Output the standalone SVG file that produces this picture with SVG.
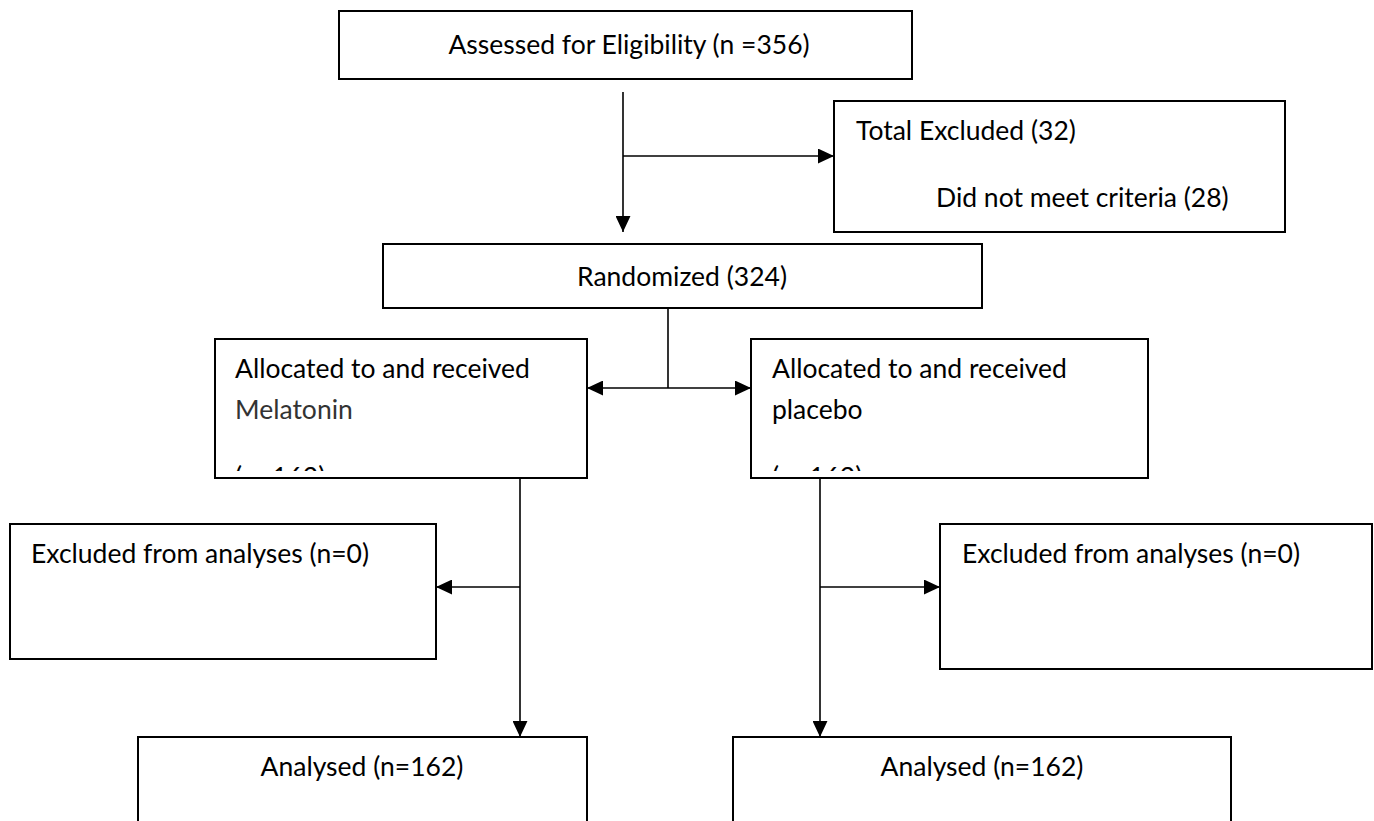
<svg xmlns="http://www.w3.org/2000/svg" width="1374" height="821" viewBox="0 0 1374 821">
<style>
.box{fill:#fff;stroke:#000;stroke-width:2}
.t{font-family:Lato,"Liberation Sans",sans-serif;font-size:26.5px;fill:#000}
.c{text-anchor:middle}
.ln{fill:none;stroke:#000;stroke-width:1.6}
</style>
<defs>
<marker id="ah" markerUnits="userSpaceOnUse" markerWidth="16" markerHeight="15" refX="15" refY="7" orient="auto-start-reverse" viewBox="0 0 15 14">
<path d="M0,0 L15,7 L0,14 z" fill="#000"/>
</marker>
<clipPath id="clipL"><rect x="216" y="340" width="370" height="131"/></clipPath>
<clipPath id="clipR"><rect x="752" y="340" width="395" height="131"/></clipPath>
</defs>
<rect width="1374" height="821" fill="#fff"/>
<g id="assessed">
<rect class="box" x="339" y="11" width="573" height="68"/>
<text class="t c" x="629" y="54">Assessed for Eligibility (n =356)</text>
</g>
<g id="excluded">
<rect class="box" x="834" y="101" width="451" height="131"/>
<text class="t" x="856" y="140">Total Excluded (32)</text>
<text class="t" x="936" y="207">Did not meet criteria (28)</text>
</g>
<g id="randomized">
<rect class="box" x="383" y="244" width="599" height="64"/>
<text class="t c" x="682" y="286">Randomized (324)</text>
</g>
<g id="alloc-melatonin">
<rect class="box" x="215" y="339" width="372" height="139"/>
<text class="t" x="235" y="378">Allocated to and received</text>
<text class="t" x="235" y="419" style="fill:#333">Melatonin</text>
<text class="t" x="235" y="486" clip-path="url(#clipL)">(n=162)</text>
</g>
<g id="alloc-placebo">
<rect class="box" x="751" y="339" width="397" height="139"/>
<text class="t" x="772" y="378">Allocated to and received</text>
<text class="t" x="772" y="419">placebo</text>
<text class="t" x="772" y="486" clip-path="url(#clipR)">(n=162)</text>
</g>
<g id="excl-left">
<rect class="box" x="10" y="524" width="426" height="135"/>
<text class="t" x="31" y="563">Excluded from analyses (n=0)</text>
</g>
<g id="excl-right">
<rect class="box" x="940" y="524" width="432" height="145"/>
<text class="t" x="962" y="563">Excluded from analyses (n=0)</text>
</g>
<g id="analysed-left">
<rect class="box" x="138" y="737" width="449" height="120"/>
<text class="t c" x="362" y="776">Analysed (n=162)</text>
</g>
<g id="analysed-right">
<rect class="box" x="733" y="737" width="498" height="120"/>
<text class="t c" x="982" y="776">Analysed (n=162)</text>
</g>
<g id="connectors">
<path class="ln" d="M623,92 V232" marker-end="url(#ah)"/>
<path class="ln" d="M623,156 H834" marker-end="url(#ah)"/>
<path class="ln" d="M668,307 V388"/>
<path class="ln" d="M587,388 H751" marker-start="url(#ah)" marker-end="url(#ah)"/>
<path class="ln" d="M520,478 V737" marker-end="url(#ah)"/>
<path class="ln" d="M520,587 H436" marker-end="url(#ah)"/>
<path class="ln" d="M820,478 V737" marker-end="url(#ah)"/>
<path class="ln" d="M820,587 H940" marker-end="url(#ah)"/>
</g>
</svg>
